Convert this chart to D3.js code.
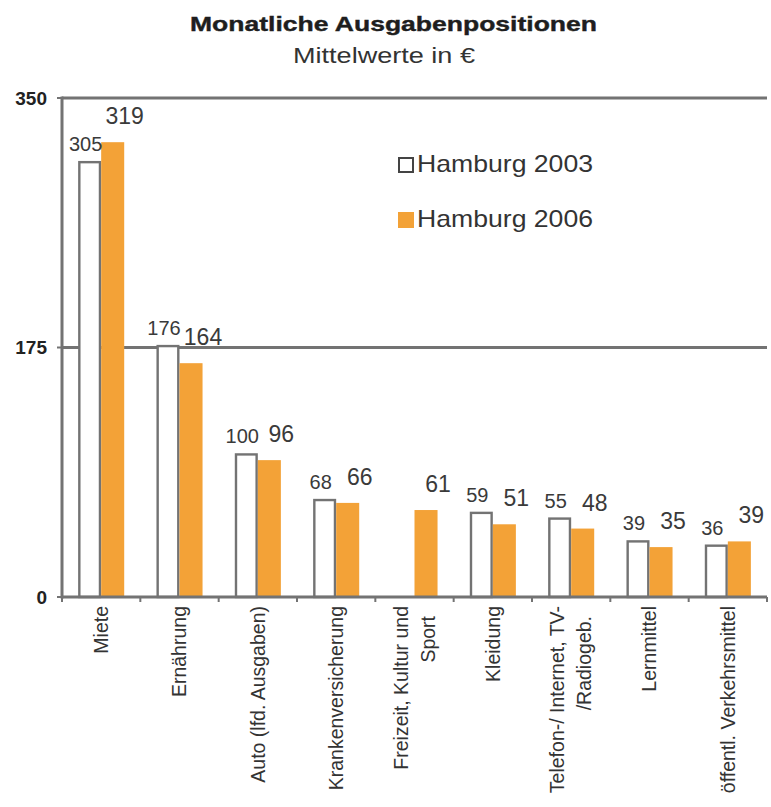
<!DOCTYPE html>
<html>
<head>
<meta charset="utf-8">
<script src="https://cdn.jsdelivr.net/npm/d3@7"></script>
<style>
  html, body { margin: 0; padding: 0; background: #fff; }
  svg { display: block; font-family: "Liberation Sans", Arial, sans-serif; }
</style>
</head>
<body>
<svg id="chart" width="771" height="807"></svg>
<script>
// ---- data ----
const categories = [
  "Miete",
  "Ernährung",
  "Auto (lfd. Ausgaben)",
  "Krankenversicherung",
  "Freizeit, Kultur und|Sport",
  "Kleidung",
  "Telefon-/ Internet, TV-|/Radiogeb.",
  "Lernmittel",
  "öffentl. Verkehrsmittel"
];
const seriesNames = ["Hamburg 2003", "Hamburg 2006"];
const hamburg2003 = [305, 176, 100, 68, null, 59, 55, 39, 36];
const hamburg2006 = [319, 164, 96, 66, 61, 51, 48, 35, 39];
const yTicks = [0, 175, 350];
const titleText = "Monatliche Ausgabenpositionen";
const subtitleText = "Mittelwerte in €";

// ---- layout ----
const W = 771, H = 807;
const margin = {left: 62, right: 4, top: 98, bottom: 210};
const gray = "#737373";
const orange = "#F3A237";

const svg = d3.select("#chart");

const x0 = d3.scaleBand().domain(categories).range([margin.left, W - margin.right]).paddingInner(0).paddingOuter(0);
const x1 = d3.scaleBand().domain(seriesNames).range([0, x0.bandwidth()]).paddingInner(0).paddingOuter(0.70);
const y = d3.scaleLinear().domain([0, 350]).range([H - margin.bottom, margin.top]);

// title
svg.append("text")
  .attr("x", 393.5).attr("y", 31)
  .attr("text-anchor", "middle")
  .attr("font-weight", "bold").attr("font-size", 21).attr("fill", "#1e1e1e")
  .attr("stroke", "#1e1e1e").attr("stroke-width", 0.4)
  .attr("textLength", 407).attr("lengthAdjust", "spacingAndGlyphs")
  .text(titleText);
svg.append("text")
  .attr("x", 384).attr("y", 63)
  .attr("text-anchor", "middle")
  .attr("font-size", 22).attr("fill", "#333")
  .attr("textLength", 182).attr("lengthAdjust", "spacingAndGlyphs")
  .text(subtitleText);

// gridlines (non-zero ticks)
svg.append("g").selectAll("line")
  .data(yTicks.filter(d => d > 0))
  .join("line")
  .attr("x1", margin.left).attr("x2", W - margin.right)
  .attr("y1", d => y(d)).attr("y2", d => y(d))
  .attr("stroke", gray).attr("stroke-width", 3);

// bars
const rows = categories.map((c, i) => ({cat: c, values: [
  {series: seriesNames[0], value: hamburg2003[i]},
  {series: seriesNames[1], value: hamburg2006[i]}
]}));

const groups = svg.append("g").selectAll("g")
  .data(rows).join("g")
  .attr("transform", d => `translate(${x0(d.cat)},0)`);

groups.selectAll("rect")
  .data(d => d.values.filter(v => v.value != null))
  .join("rect")
  .attr("x", d => x1(d.series) + (d.series === seriesNames[0] ? 1.2 : 0))
  .attr("width", d => x1.bandwidth() - (d.series === seriesNames[0] ? 2.4 : 0))
  .attr("y", d => y(d.value))
  .attr("height", d => y(0) - y(d.value))
  .attr("fill", d => d.series === seriesNames[0] ? "#fff" : orange)
  .attr("stroke", d => d.series === seriesNames[0] ? gray : "none")
  .attr("stroke-width", 2.4);

// value labels
groups.selectAll("text.val")
  .data(d => d.values.filter(v => v.value != null))
  .join("text")
  .attr("class", "val")
  .attr("x", d => x1(d.series) + x1.bandwidth() / 2 + (d.series === seriesNames[0] ? -4 : 12))
  .attr("y", d => y(d.value) - (d.series === seriesNames[0] ? 11 : 18))
  .attr("text-anchor", "middle")
  .attr("font-size", d => d.series === seriesNames[0] ? 20 : 23)
  .attr("fill", "#3a3a3a")
  .text(d => d.value);

// y axis line
svg.append("line")
  .attr("x1", margin.left).attr("x2", margin.left)
  .attr("y1", y(350) - 1.5).attr("y2", y(0) + 1.5)
  .attr("stroke", gray).attr("stroke-width", 3);

// y ticks + labels
const yt = svg.append("g").selectAll("g").data(yTicks).join("g")
  .attr("transform", d => `translate(0,${y(d)})`);
yt.append("line").attr("x1", margin.left - 5).attr("x2", margin.left)
  .attr("stroke", gray).attr("stroke-width", 2);
yt.append("text")
  .attr("x", 47).attr("dy", "0.36em")
  .attr("text-anchor", "end")
  .attr("font-weight", "bold").attr("font-size", 19).attr("fill", "#222")
  .text(d => d);

// x axis line
svg.append("line")
  .attr("x1", margin.left).attr("x2", W - margin.right)
  .attr("y1", y(0)).attr("y2", y(0))
  .attr("stroke", gray).attr("stroke-width", 3);

// x ticks at category boundaries
const boundaries = categories.map(c => x0(c)).concat([x0(categories[categories.length - 1]) + x0.bandwidth()]);
svg.append("g").selectAll("line").data(boundaries).join("line")
  .attr("x1", d => d).attr("x2", d => d)
  .attr("y1", y(0)).attr("y2", y(0) + 5)
  .attr("stroke", gray).attr("stroke-width", 2);

// category labels (rotated)
const labG = svg.append("g").selectAll("g").data(categories).join("g")
  .attr("transform", d => `translate(${x0(d) + x0.bandwidth() / 2},606) rotate(-90)`);
labG.each(function(d) {
  const lines = d.split("|");
  const g = d3.select(this);
  const lh = 27;
  lines.forEach((ln, i) => {
    g.append("text")
      .attr("x", i === 0 ? 0 : -10)
      .attr("y", (i - (lines.length - 1) / 2) * lh)
      .attr("dy", "0.35em")
      .attr("text-anchor", "end")
      .attr("font-size", 19.5)
      .attr("fill", "#333")
      .text(ln);
  });
});

// legend
const leg = svg.append("g").selectAll("g").data(seriesNames).join("g")
  .attr("transform", (d, i) => `translate(398,${157 + i * 55})`);
leg.append("rect")
  .attr("x", d => d === seriesNames[0] ? 1 : 0)
  .attr("y", d => d === seriesNames[0] ? 1 : 0)
  .attr("width", d => d === seriesNames[0] ? 14 : 16)
  .attr("height", d => d === seriesNames[0] ? 14 : 16)
  .attr("fill", d => d === seriesNames[0] ? "#fff" : orange)
  .attr("stroke", d => d === seriesNames[0] ? "#444" : "none")
  .attr("stroke-width", 2);
leg.append("text")
  .attr("x", 19).attr("y", 15)
  .attr("font-size", 24).attr("fill", "#333")
  .attr("textLength", 176).attr("lengthAdjust", "spacingAndGlyphs")
  .text(d => d);
</script>
</body>
</html>
